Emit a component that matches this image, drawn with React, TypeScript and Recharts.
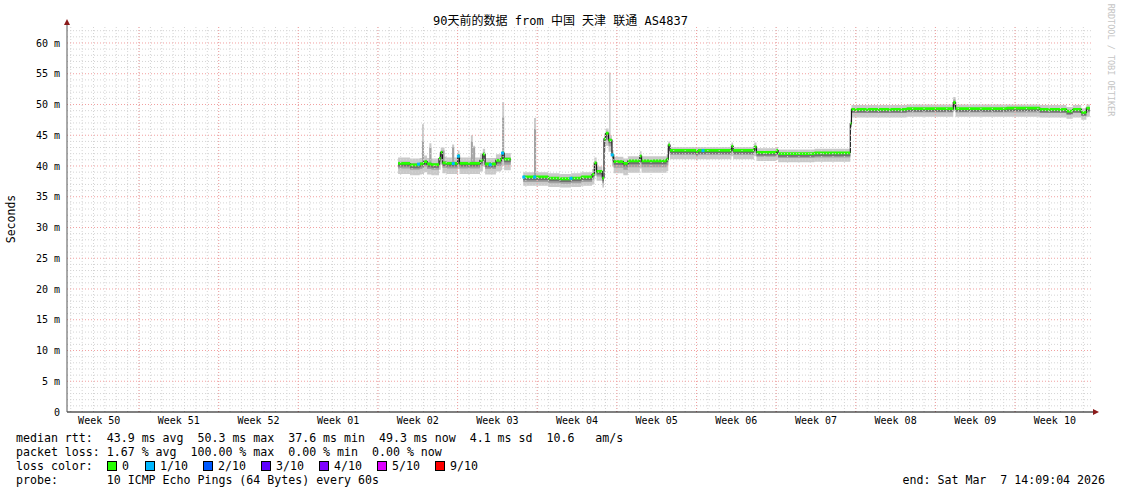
import React from 'react';
import { ComposedChart, Area, Scatter, XAxis, YAxis, ReferenceLine } from 'recharts';

// ---- data (days since start of 90-day window) ----
const days = [
  29.1, 30.15, 31.0, 31.2, 31.38, 31.65, 31.85, 32.03, 32.7, 32.85,
  33.0, 33.18, 33.35, 33.85, 34.03, 34.35, 34.5, 35.5, 35.67, 35.7,
  35.87, 36.3, 36.55, 36.75, 37.7, 38.15, 38.25, 38.42, 39.0, 39.05,
  40.1, 41.05, 41.23, 42.3, 43.3, 44.3, 45.2, 46.15, 46.35, 46.55,
  47.05, 47.2, 47.35, 47.6, 47.65, 47.78, 47.9, 48.05, 48.9, 49.3,
  50.35, 50.5, 52.7, 52.85, 53.0,
  55.3, 55.45, 58.4, 58.55, 60.4, 60.6, 62.35, 62.5, 65.7, 68.85, 68.95,
  73.8, 77.9, 78.1, 82.6, 85.5, 87.85, 88.4, 89.15, 89.6, 89.9,
];
const median = [
  40.4, 40.15, 40.3, 40.4, 40.7, 40.3, 40.3, 40.2, 41.2, 42.2,
  40.5, 40.5, 40.4, 40.4, 40.4, 41.6, 40.4, 40.4, 40.4, 40.4,
  40.4, 40.9, 41.9, 40.3, 40.9, 41.2, 42.1, 41.1, 41.1, null,
  38.2, 38.2, 38.2, 38.0, 37.9, 38.0, 38.2, 38.6, 40.5, 39.1,
  38.0, 44.4, 45.3, 44.2, 44.2, 44.2, 41.8, 40.7, 40.4, 40.8,
  41.6, 40.8, 41.1, 43.4, 42.5,
  42.3, 42.5, 43.2, 42.5, 43.1, 42.2, 42.5, 42.0, 42.1, 46.9, 49.2,
  49.3, 50.3, 49.3, 49.4, 49.2, 48.9, 49.2, 48.7, 49.4, 49.4,
];
const minRtt = [
  38.7, 38.5, 38.6, 38.7, 39.0, 38.6, 38.6, 38.5, 39.4, 40.2,
  38.8, 38.8, 38.7, 38.7, 38.7, 39.5, 38.7, 38.7, 38.7, 38.7,
  38.7, 39.1, 39.9, 38.6, 39.1, 39.3, 40.0, 39.3, 39.3, null,
  36.8, 36.8, 36.8, 36.6, 36.5, 36.6, 36.8, 37.0, 38.4, 37.6,
  36.5, 42.3, 43.3, 42.3, 42.3, 42.3, 39.9, 38.8, 38.5, 38.9,
  39.6, 38.9, 39.2, 41.9, 41.1,
  40.9, 41.1, 41.6, 41.1, 41.6, 40.8, 41.0, 40.6, 40.7, 45.8, 47.9,
  48.0, 49.0, 48.0, 48.0, 47.9, 47.7, 47.9, 47.5, 48.0, 48.0,
];
const q1Rtt = [
  39.6, 39.4, 39.5, 39.6, 39.9, 39.5, 39.5, 39.4, 40.3, 41.2,
  39.7, 39.7, 39.6, 39.6, 39.6, 40.5, 39.6, 39.6, 39.6, 39.6,
  39.6, 40.0, 40.8, 39.5, 40.0, 40.2, 41.0, 40.2, 40.2, null,
  37.4, 37.4, 37.4, 37.2, 37.1, 37.2, 37.4, 37.8, 39.3, 38.3,
  37.2, 43.2, 44.2, 43.2, 43.2, 43.2, 40.8, 39.7, 39.4, 39.8,
  40.5, 39.8, 40.1, 42.7, 41.8,
  41.6, 41.8, 42.4, 41.8, 42.4, 41.5, 41.8, 41.3, 41.4, 46.4, 48.6,
  48.7, 49.6, 48.7, 48.7, 48.6, 48.3, 48.6, 48.1, 48.7, 48.7,
];
const q3Rtt = [
  40.7, 40.5, 40.6, 44.0, 41.0, 40.6, 43.0, 40.5, 41.5, 42.5,
  42.5, 40.8, 40.7, 43.0, 40.7, 41.9, 40.7, 44.0, 40.8, 43.0,
  40.7, 41.2, 42.2, 40.6, 41.2, 41.5, 48.0, 41.4, 41.4, null,
  38.2, 46.0, 38.2, 38.0, 37.9, 38.0, 38.2, 38.7, 40.6, 39.2,
  38.1, 44.6, 45.5, 44.4, 44.6, 44.4, 42.0, 40.9, 40.6, 41.0,
  41.8, 41.0, 41.3, 43.5, 42.6,
  42.4, 42.6, 43.3, 42.6, 43.2, 42.3, 42.6, 42.1, 42.2, 47.0, 49.2,
  49.3, 50.8, 49.3, 49.4, 49.2, 48.9, 49.2, 48.8, 49.4, 49.4,
];
const maxRtt = [
  41.4, 41.2, 41.3, 46.8, 41.7, 41.3, 43.7, 41.2, 42.2, 43.0,
  43.0, 41.5, 41.4, 43.5, 41.4, 42.5, 41.4, 45.0, 41.4, 43.3,
  41.4, 41.9, 42.8, 41.3, 41.9, 42.2, 50.4, 42.1, 42.1, null,
  39.0, 47.8, 39.0, 38.8, 38.7, 38.8, 39.0, 39.5, 41.4, 39.9,
  38.8, 45.3, 46.1, 45.0, 55.2, 45.0, 42.6, 41.5, 41.2, 41.6,
  42.4, 41.6, 41.9, 44.0, 43.1,
  43.0, 43.1, 43.8, 43.1, 43.8, 42.9, 43.1, 42.7, 42.8, 47.5, 49.9,
  50.0, 51.2, 50.0, 50.0, 49.9, 49.6, 49.9, 49.4, 50.0, 50.0,
];
// samples with 1/10 packet loss
const lossDays = [30.9, 33.95, 34.4, 37.2, 38.28, 40.15, 41.1, 44.3, 47.92, 55.9];
const lossValues = [40.3, 40.4, 41.6, 40.2, 42.1, 38.2, 38.2, 38.0, 41.8, 42.5];

// ---- axis ticks ----
const weekLabels = ['Week 50', 'Week 51', 'Week 52', 'Week 01', 'Week 02', 'Week 03', 'Week 04',
  'Week 05', 'Week 06', 'Week 07', 'Week 08', 'Week 09', 'Week 10'];
const weekCenters = [2.83, 9.83, 16.83, 23.83, 30.83, 37.83, 44.83, 51.83, 58.83, 65.83, 72.83, 79.83, 86.83];
const weekStarts = [6.33, 13.33, 20.33, 27.33, 34.33, 41.33, 48.33, 55.33, 62.33, 69.33, 76.33, 83.33];
const yTicks = [0, 5, 10, 15, 20, 25, 30, 35, 40, 45, 50, 55, 60];
const dayGrid = Array.from({ length: 90 }, (_, i) => 0.33 + i);
const mGrid = Array.from({ length: 62 }, (_, i) => i + 1).filter((v) => v % 5 !== 0);

const lossLegend = [
  { label: '0', color: '#26ff00', left: 107 },
  { label: '1/10', color: '#00b8ff', left: 145 },
  { label: '2/10', color: '#0059ff', left: 203 },
  { label: '3/10', color: '#5e00ff', left: 261 },
  { label: '4/10', color: '#7e00ff', left: 319 },
  { label: '5/10', color: '#dd00ff', left: 377 },
  { label: '9/10', color: '#ff0000', left: 435 },
];

const rows = days.map((d, i) => ({
  day: d, med: median[i], lo: minRtt[i], q1: q1Rtt[i], q3: q3Rtt[i], hi: maxRtt[i],
}));
const lossRows = lossDays.map((d, i) => ({ day: d, loss: lossValues[i] }));

const outerBand = (r: any) => (r.hi == null ? null : [r.lo, r.hi]);
const innerBand = (r: any) => (r.q3 == null ? null : [r.q1, r.q3]);
const coreBand = (r: any) => (r.med == null ? null : [r.med - 0.5, r.med]);
const medBand = (r: any) => (r.med == null ? null : [r.med - 0.2, r.med + 0.25]);

const MONO = '"DejaVu Sans Mono", "Liberation Mono", monospace';

const LossDot = (props: any) => {
  const { cx, cy } = props;
  if (cx == null || cy == null) return null;
  return <rect x={cx - 1.5} y={cy - 1.5} width={3} height={3} fill="#00b8ff" />;
};

const textLine = (top: number, txt: string) => (
  <div style={{ position: 'absolute', left: 16, top, fontFamily: MONO, fontSize: 11.6, lineHeight: '14px', whiteSpace: 'pre', color: '#000' }}>
    {txt}
  </div>
);

export default function App() {
  return (
    <div style={{ position: 'absolute', left: 0, top: 0, width: 1121, height: 494, background: '#fff', overflow: 'hidden' }}>
      <ComposedChart
        width={1121}
        height={494}
        data={rows}
        margin={{ top: 27, right: 28, bottom: 62, left: 17 }}
      >
        {dayGrid.map((d) => (
          <ReferenceLine key={'dx' + d} x={d} stroke="#d4d4d4" strokeDasharray="1 2" strokeWidth={1} />
        ))}
        {mGrid.map((v) => (
          <ReferenceLine key={'my' + v} y={v} stroke="#d4d4d4" strokeDasharray="1 2" strokeWidth={1} />
        ))}
        {weekStarts.map((d) => (
          <ReferenceLine key={'wx' + d} x={d} stroke="#f2a0a0" strokeDasharray="1 2" strokeWidth={1} />
        ))}
        {yTicks.filter((v) => v > 0).map((v) => (
          <ReferenceLine key={'wy' + v} y={v} stroke="#f2a0a0" strokeDasharray="1 2" strokeWidth={1} />
        ))}
        <XAxis
          type="number"
          dataKey="day"
          domain={[0, 90.18]}
          ticks={weekCenters}
          tickFormatter={(_v: any, i: number) => weekLabels[i]}
          interval={0}
          height={20}
          axisLine={{ stroke: '#000' }}
          tickLine={false}
          tickSize={4}
          tickMargin={1}
          tick={{ fontFamily: MONO, fontSize: 10, fill: '#000' }}
          allowDataOverflow
        />
        <YAxis
          type="number"
          domain={[0, 62.6]}
          ticks={yTicks}
          tickFormatter={(v: number) => (v === 0 ? '0' : `${v} m`)}
          interval={0}
          width={50}
          axisLine={{ stroke: '#555' }}
          tickLine={false}
          tickSize={4}
          tickMargin={3}
          tick={{ fontFamily: MONO, fontSize: 10, fill: '#000' }}
          allowDataOverflow
        />
        <Area type="stepAfter" dataKey={outerBand} stroke="none" fill="#c9c9c9" fillOpacity={1} isAnimationActive={false} dot={false} activeDot={false} />
        <Area type="stepAfter" dataKey={innerBand} stroke="none" fill="#a2a2a2" fillOpacity={1} isAnimationActive={false} dot={false} activeDot={false} />
        <Area type="stepAfter" dataKey={coreBand} stroke="none" fill="#707070" fillOpacity={1} isAnimationActive={false} dot={false} activeDot={false} />
        <Area type="stepAfter" dataKey="med" stroke="#1a1a1a" strokeWidth={1.2} fill="none" fillOpacity={0} isAnimationActive={false} dot={false} activeDot={false} />
        <Area type="stepAfter" dataKey={medBand} stroke="none" fill="#26ff00" fillOpacity={1} isAnimationActive={false} dot={false} activeDot={false} />
        <Scatter data={lossRows} dataKey="loss" shape={<LossDot />} isAnimationActive={false} />
      </ComposedChart>

      <svg width={1121} height={494} style={{ position: 'absolute', left: 0, top: 0, pointerEvents: 'none' }}>
        <line x1={67} y1={27} x2={67} y2={23} stroke="#555" />
        <polygon points="64,25 70,25 67,19" fill="#8b1a1a" />
        <line x1={1093} y1={412} x2={1094} y2={412} stroke="#000" />
        <polygon points="1093,409 1093,415 1099,412" fill="#8b1a1a" />
        <text x={560.5} y={21} textAnchor="middle" dominantBaseline="central"
          style={{ fontFamily: '"DejaVu Sans Mono", "Noto Sans CJK SC", monospace', fontSize: 12, fill: '#000' }}>
          90天前的数据 from 中国 天津 联通 AS4837
        </text>
        <text x={11} y={219} textAnchor="middle" dominantBaseline="central" transform="rotate(-90 11 219)"
          style={{ fontFamily: MONO, fontSize: 11.5, fill: '#000' }}>
          Seconds
        </text>
        <text x={1111} y={60} textAnchor="middle" dominantBaseline="central" transform="rotate(90 1111 60)"
          style={{ fontFamily: MONO, fontSize: 8.5, fill: '#c4c4c4' }}>
          RRDTOOL / TOBI OETIKER
        </text>
      </svg>

      {textLine(431, 'median rtt:  43.9 ms avg  50.3 ms max  37.6 ms min  49.3 ms now  4.1 ms sd  10.6   am/s')}
      {textLine(445, 'packet loss: 1.67 % avg  100.00 % max  0.00 % min  0.00 % now')}
      {textLine(459, 'loss color:')}
      {lossLegend.map((it) => (
        <div key={it.label} style={{ position: 'absolute', left: it.left, top: 461, height: 14 }}>
          <div style={{ position: 'absolute', left: 0, top: 0, width: 8, height: 8, background: it.color, border: '1px solid #000' }} />
          <div style={{ position: 'absolute', left: 15, top: -2, fontFamily: MONO, fontSize: 11.6, lineHeight: '14px', whiteSpace: 'pre' }}>{it.label}</div>
        </div>
      ))}
      {textLine(473, 'probe:       10 ICMP Echo Pings (64 Bytes) every 60s')}
      <div style={{ position: 'absolute', right: 16, top: 473, fontFamily: MONO, fontSize: 11.6, lineHeight: '14px', whiteSpace: 'pre' }}>
        end: Sat Mar  7 14:09:04 2026
      </div>
    </div>
  );
}
